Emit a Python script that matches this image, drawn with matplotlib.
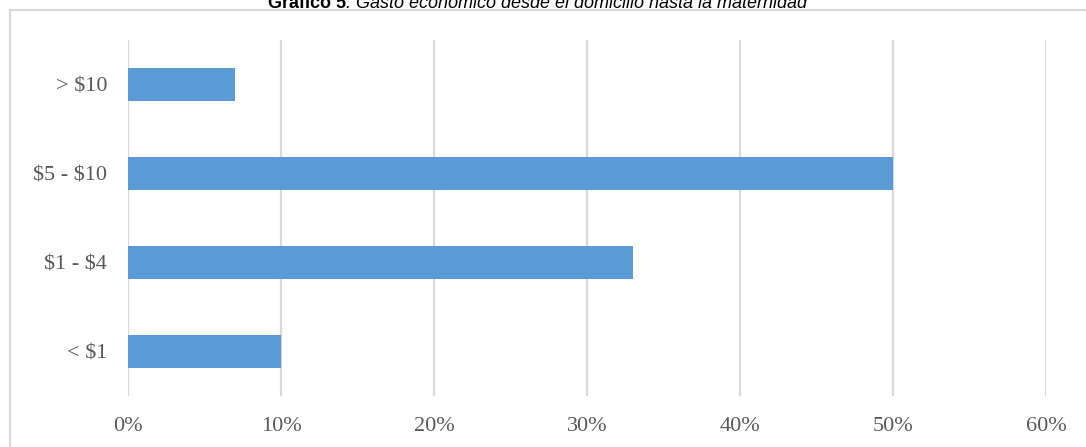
import matplotlib.pyplot as plt
from matplotlib.patches import Rectangle

# datos del grafico 5
categorias = [r"< \$1", r"\$1 - \$4", r"\$5 - \$10", r"> \$10"]
porcentajes = [10, 33, 50, 7]
ticks_x = [0, 10, 20, 30, 40, 50, 60]
etiquetas_x = ["0%", "10%", "20%", "30%", "40%", "50%", "60%"]

fig = plt.figure(figsize=(10.86, 4.47), dpi=100)
ax = fig.add_axes([0.1179, 0.1141, 0.8453, 0.7964])

ax.barh(range(len(categorias)), porcentajes, height=0.36, color="#5B9BD5", zorder=3)

ax.set_xlim(0, 60)
ax.set_ylim(-0.5, 3.5)
ax.set_xticks(ticks_x)
ax.set_xticklabels(etiquetas_x)
ax.set_yticks(range(len(categorias)))
ax.set_yticklabels(categorias)

ax.grid(axis="x", color="#D9D9D9", linewidth=1.6, zorder=0)
ax.set_axisbelow(True)
for s in ax.spines.values():
    s.set_visible(False)
ax.tick_params(length=0, labelsize=16, labelcolor="#595959")
ax.tick_params(axis="y", pad=15)
ax.tick_params(axis="x", pad=15)
for lab in ax.get_xticklabels() + ax.get_yticklabels():
    lab.set_family("Liberation Serif")

# marco del grafico
fig.patches.append(Rectangle((10 / 1086, -0.1), 1.2, (447 - 10) / 447 + 0.1,
                             transform=fig.transFigure, fill=False,
                             edgecolor="#D9D9D9", linewidth=1.5))

# titulo (cortado arriba, como en el original)
y_tit = 1 - 8 / 447
t1 = fig.text(0.247, y_tit, "Gráfico 5", ha="left", va="baseline",
              fontsize=13, family="Liberation Sans", fontweight="bold")
fig.canvas.draw()
bb = t1.get_window_extent()
x2 = bb.x1 / fig.bbox.width
fig.text(x2, y_tit, ". Gasto económico desde el domicilio hasta la maternidad",
         ha="left", va="baseline", fontsize=13, family="Liberation Sans",
         style="italic")

fig.savefig("out.png", dpi=100)
